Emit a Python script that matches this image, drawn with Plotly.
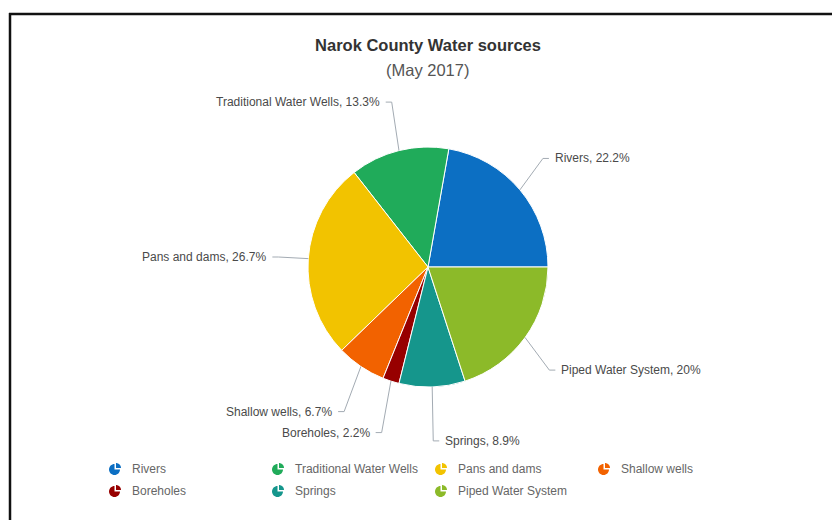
import math
import plotly.graph_objects as go

# ---- data ----
categories = ["Rivers", "Traditional Water Wells", "Pans and dams", "Shallow wells",
              "Boreholes", "Springs", "Piped Water System"]
counts = [10, 6, 12, 3, 1, 4, 9]
colors = ["#0c6fc3", "#20ab5a", "#f2c300", "#f26200", "#970000", "#15968c", "#8cba29"]
title_text = "Narok County Water sources"
subtitle_text = "(May 2017)"

# ---- layout constants (page px) ----
W, H = 832, 520
CX, CY, R = 428, 267, 120                # pie centre / radius
LBL_RY, LBL_SHIFT, BEND_R = 172, 2, 150  # data-label placement
LEG_X0, LEG_DX, LEG_Y0, LEG_DY, LEG_COLS = 115, 163, 469, 22, 4
ICON_R = 5.5


def px(x):
    return x / W


def py(y):
    return 1 - y / H


def fmt_pct(p):
    s = f"{p:.1f}"
    return s[:-2] if s.endswith(".0") else s


def arc_path(cx, cy, r, a0, a1, n=24):
    pts = [(cx, cy)]
    for k in range(n + 1):
        a = math.radians(a0 + (a1 - a0) * k / n)
        pts.append((cx + r * math.cos(a), cy - r * math.sin(a)))
    return "M " + " L ".join(f"{px(x)},{py(y)}" for x, y in pts) + " Z"


total = sum(counts)
# first slice starts at 3 o'clock and the pie runs counter-clockwise
rotation = 90 - 360 * counts[0] / total

fig = go.Figure()
fig.add_trace(go.Pie(
    labels=categories, values=counts, sort=False, direction="counterclockwise",
    rotation=rotation, marker=dict(colors=colors, line=dict(color="white", width=1)),
    textinfo="none", hoverinfo="label+percent", showlegend=False,
    domain=dict(x=[px(CX - R), px(CX + R)], y=[py(CY + R), py(CY - R)]),
))

annotations = []
shapes = []

# data labels with connectors
cum = 0
for name, v in zip(categories, counts):
    start = cum / total * 360
    cum += v
    end = cum / total * 360
    mid = math.radians((start + end) / 2)
    c, s = math.cos(mid), math.sin(mid)
    side = 1 if c >= 0 else -1
    ex, ey = CX + R * c, CY - R * s
    ly = CY + LBL_SHIFT - LBL_RY * s
    bx = CX + BEND_R * c
    hx = bx + side * 6
    tx = bx + side * 10
    shapes.append(dict(type="path", xref="paper", yref="paper",
                       path=f"M {px(ex)},{py(ey)} L {px(bx)},{py(ly)} L {px(hx)},{py(ly)}",
                       line=dict(color="#a3abb3", width=1)))
    annotations.append(dict(xref="paper", yref="paper", x=px(tx), y=py(ly),
                            xanchor="left" if side > 0 else "right", yanchor="middle",
                            showarrow=False, text=f"{name}, {fmt_pct(v / total * 100)}%",
                            font=dict(size=12, color="#4a4a4a")))

# legend (pie-shaped icons + names)
for i, (name, col) in enumerate(zip(categories, colors)):
    lx = LEG_X0 + (i % LEG_COLS) * LEG_DX
    ly = LEG_Y0 + (i // LEG_COLS) * LEG_DY
    shapes.append(dict(type="path", xref="paper", yref="paper",
                       path=arc_path(lx - 0.5, ly + 0.5, ICON_R, 90, 360),
                       fillcolor=col, line=dict(width=0)))
    shapes.append(dict(type="path", xref="paper", yref="paper",
                       path=arc_path(lx + 1.0, ly - 1.0, ICON_R - 0.5, 0, 90, 12),
                       fillcolor=col, line=dict(width=0)))
    annotations.append(dict(xref="paper", yref="paper", x=px(lx + 15), y=py(ly),
                            xanchor="left", yanchor="middle", showarrow=False,
                            text=name, font=dict(size=12, color="#666666")))

# frame (top and left edges only are visible in the window)
shapes.append(dict(type="line", xref="paper", yref="paper",
                   x0=px(9), x1=1.2, y0=py(14), y1=py(14),
                   line=dict(color="#111111", width=2.5)))
shapes.append(dict(type="line", xref="paper", yref="paper",
                   x0=px(10), x1=px(10), y0=py(13), y1=-0.2,
                   line=dict(color="#111111", width=2.5)))

annotations.append(dict(xref="paper", yref="paper", x=px(428), y=py(70),
                        xanchor="center", yanchor="middle", showarrow=False,
                        text=subtitle_text, font=dict(size=16.5, color="#555555")))

fig.update_layout(
    width=W, height=H, margin=dict(l=0, r=0, t=0, b=0),
    paper_bgcolor="white", plot_bgcolor="white",
    font=dict(family="Liberation Sans, Arial, sans-serif"),
    title=dict(text=title_text, x=px(428), xanchor="center", y=py(45), yanchor="middle",
               yref="container", font=dict(size=16.5, color="#333333", weight="bold")),
    showlegend=False,
    annotations=annotations, shapes=shapes,
)

fig.write_html("out.html", config={"displayModeBar": False},
               post_script="document.body.style.margin='0';document.body.style.overflow='hidden';")
